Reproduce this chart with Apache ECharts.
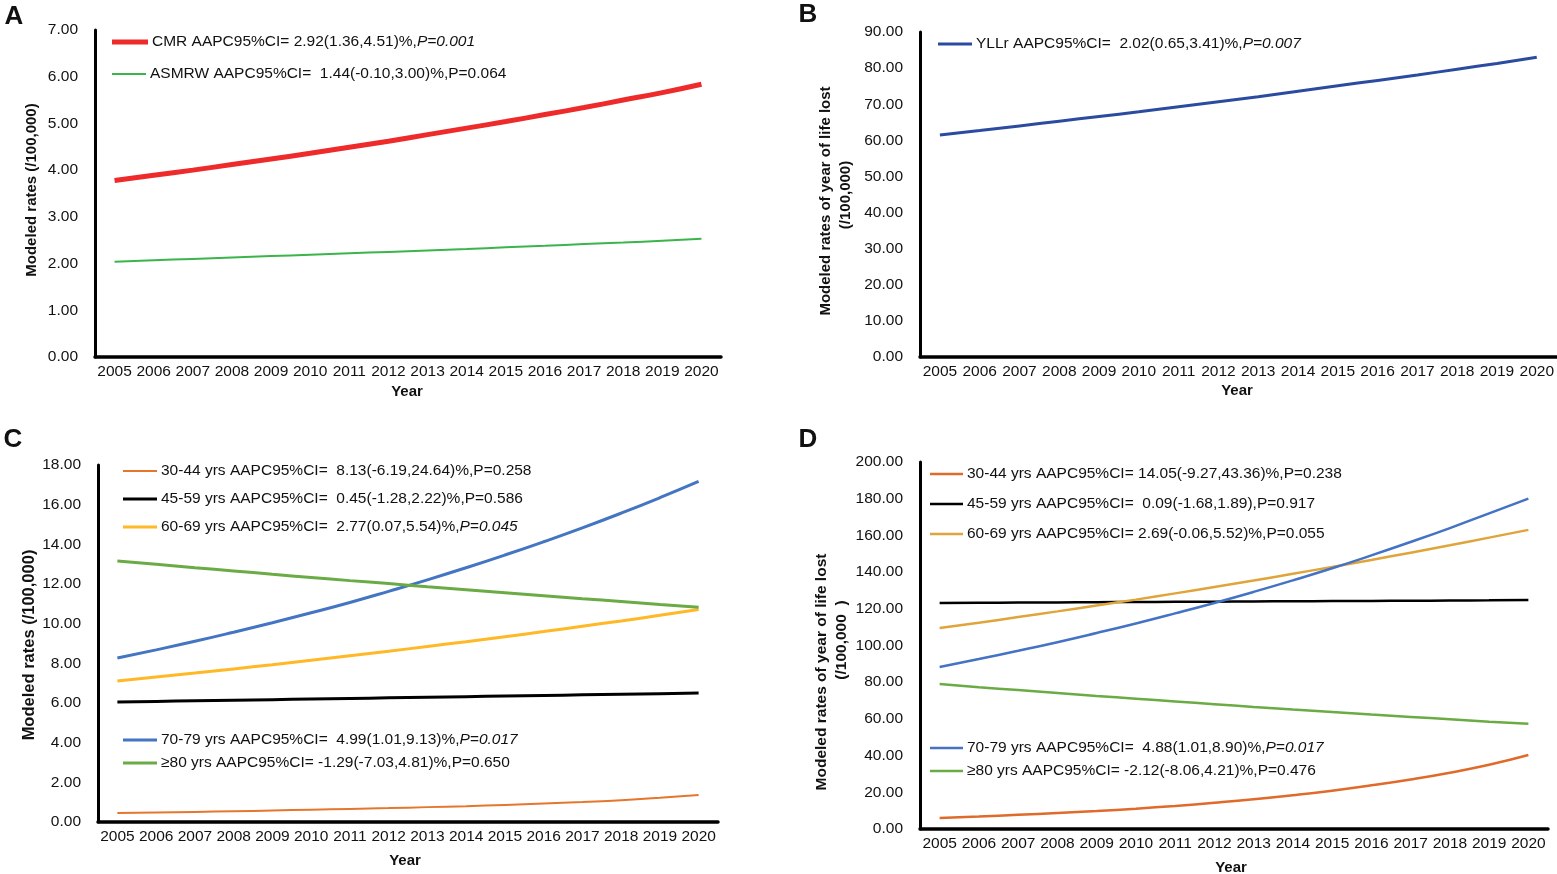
<!DOCTYPE html>
<html><head><meta charset="utf-8">
<script src="https://cdn.jsdelivr.net/npm/echarts@6/dist/echarts.min.js"></script>
<style>html,body{margin:0;padding:0;background:#fff}#c{width:1557px;height:874px}</style>
</head><body><div id="c"></div>
<script>
var years = ['2005','2006','2007','2008','2009','2010','2011','2012','2013','2014','2015','2016','2017','2018','2019','2020'];

// Panel A
var cmr   = [3.78,3.89,4.00,4.12,4.24,4.36,4.49,4.62,4.76,4.90,5.04,5.19,5.34,5.50,5.66,5.84];
var asmrw = [2.04,2.07,2.10,2.13,2.16,2.19,2.22,2.25,2.28,2.31,2.35,2.38,2.42,2.45,2.49,2.53];
// Panel B
var yllr  = [61.5,62.7,64.0,65.3,66.6,67.9,69.3,70.7,72.1,73.6,75.1,76.6,78.1,79.7,81.3,83.0];
// Panel C
var c3044 = [0.45,0.48,0.51,0.54,0.58,0.62,0.66,0.70,0.75,0.80,0.86,0.93,1.01,1.10,1.22,1.36];
var c4559 = [6.05,6.08,6.11,6.14,6.17,6.20,6.23,6.26,6.29,6.32,6.35,6.38,6.41,6.44,6.47,6.50];
var c6069 = [7.11,7.31,7.51,7.72,7.93,8.15,8.38,8.61,8.85,9.09,9.34,9.60,9.87,10.14,10.42,10.71];
var c7079 = [8.27,8.68,9.11,9.57,10.05,10.55,11.07,11.63,12.21,12.82,13.46,14.13,14.83,15.57,16.35,17.17];
var c80   = [13.16,12.99,12.82,12.66,12.49,12.33,12.17,12.02,11.86,11.71,11.56,11.41,11.26,11.12,10.97,10.83];
// Panel D
var d3044 = [6.0,6.8,7.7,8.7,9.8,11.1,12.6,14.3,16.2,18.4,20.9,23.8,27.0,30.7,35.0,40.3];
var d4559 = [123.2,123.3,123.4,123.5,123.6,123.7,123.8,123.9,124.0,124.1,124.2,124.3,124.4,124.5,124.6,124.8];
var d6069 = [109.5,112.4,115.5,118.6,121.8,125.0,128.4,131.9,135.4,139.1,142.8,146.6,150.6,154.6,158.8,163.0];
var d7079 = [88.3,92.6,97.1,101.8,106.8,112.0,117.5,123.2,129.2,135.5,142.1,149.1,156.4,164.0,172.0,180.0];
var d80   = [79.0,77.3,75.7,74.1,72.5,71.0,69.5,68.0,66.5,65.1,63.8,62.4,61.1,59.8,58.5,57.3];

// Legend labels: [plain part, italic part]
var labA = [['CMR AAPC95%CI= 2.92(1.36,4.51)%,','P=0.001'],['ASMRW AAPC95%CI=  1.44(-0.10,3.00)%,P=0.064','']];
var labB = [['YLLr AAPC95%CI=  2.02(0.65,3.41)%,','P=0.007']];
var labC = [['30-44 yrs AAPC95%CI=  8.13(-6.19,24.64)%,P=0.258',''],['45-59 yrs AAPC95%CI=  0.45(-1.28,2.22)%,P=0.586',''],['60-69 yrs AAPC95%CI=  2.77(0.07,5.54)%,','P=0.045'],['70-79 yrs AAPC95%CI=  4.99(1.01,9.13)%,','P=0.017'],['\u226580 yrs AAPC95%CI= -1.29(-7.03,4.81)%,P=0.650','']];
var labD = [['30-44 yrs AAPC95%CI= 14.05(-9.27,43.36)%,P=0.238',''],['45-59 yrs AAPC95%CI=  0.09(-1.68,1.89),P=0.917',''],['60-69 yrs AAPC95%CI= 2.69(-0.06,5.52)%,P=0.055',''],['70-79 yrs AAPC95%CI=  4.88(1.01,8.90)%,','P=0.017'],['\u226580 yrs AAPC95%CI= -2.12(-8.06,4.21)%,P=0.476','']];

var FONT = '"Liberation Sans", Arial, sans-serif';
var FS = 15.5;
var chart = echarts.init(document.getElementById('c'));

var grids = [
  {left:95, top:30, width:626, height:327},
  {left:920, top:32, width:637, height:325},
  {left:98, top:465, width:620, height:357},
  {left:920, top:462, width:628, height:367}
];
var yMax = [7, 90, 18, 200], yInt = [1, 10, 2, 20];

var xAxes = [], yAxes = [];
for (var g = 0; g < 4; g++) {
  xAxes.push({type:'category', gridIndex:g, data:years, boundaryGap:true,
    axisLine:{lineStyle:{color:'#000', width:3.5}}, axisTick:{show:false},
    axisLabel:{color:'#111', fontSize:FS, fontFamily:FONT, margin:7, interval:0}});
  yAxes.push({type:'value', gridIndex:g, min:0, max:yMax[g], interval:yInt[g],
    axisLine:{show:true, lineStyle:{color:'#000', width:3}}, axisTick:{show:false}, splitLine:{show:false},
    axisLabel:{color:'#111', fontSize:FS, fontFamily:FONT, margin:17, formatter:function(v){return v.toFixed(2);}}});
}

var series = [], legends = [], nameMap = {};
function add(g, lab, data, color, width, legLeft, legTop, legW) {
  var name = lab[0] + lab[1];
  nameMap[name] = lab;
  series.push({type:'line', name:name, xAxisIndex:g, yAxisIndex:g, data:data, smooth:true,
    showSymbol:false, symbol:'none', lineStyle:{color:color, width:width}, itemStyle:{color:color}, z:3});
  legends.push({left:legLeft, top:legTop, padding:0, itemWidth:legW, itemHeight:width,
    selectedMode:false, icon:'rect', data:[{name:name, icon:'rect', itemStyle:{color:color}}],
    formatter:function(n){var l=nameMap[n]; return '{n|'+l[0]+'}' + (l[1]?'{i|'+l[1]+'}':'');},
    textStyle:{fontFamily:FONT, fontSize:FS, color:'#111', padding:[0,0,0,-1],
      rich:{n:{fontFamily:FONT, fontSize:FS, color:'#111'}, i:{fontFamily:FONT, fontSize:FS, color:'#111', fontStyle:'italic'}}}});
}

// A
add(0, labA[0], cmr,   '#ee2a2a', 5,   112, 34, 36);
add(0, labA[1], asmrw, '#3bb44a', 2,   112, 66, 34);
// B
add(1, labB[0], yllr,  '#2a4b9f', 3,   938, 36, 34);
// C
add(2, labC[0], c3044, '#e5762c', 2,   123, 463, 34);
add(2, labC[1], c4559, '#000000', 3,   123, 491, 34);
add(2, labC[2], c6069, '#ffb826', 3,   123, 519, 34);
add(2, labC[3], c7079, '#4475c2', 3,   123, 732, 34);
add(2, labC[4], c80,   '#6aab45', 3,   123, 755, 34);
// D
add(3, labD[0], d3044, '#e06a2a', 2.5, 930, 466, 33);
add(3, labD[1], d4559, '#000000', 2.5, 930, 496, 33);
add(3, labD[2], d6069, '#e0a53a', 2.5, 930, 526, 33);
add(3, labD[3], d7079, '#4472c4', 2.5, 930, 740, 33);
add(3, labD[4], d80,   '#6aab45', 2.5, 930, 763, 33);

function txt(x, y, s, opt) {
  opt = opt || {};
  return {type:'text', x:x, y:y, rotation:opt.rot||0, z:10,
    style:{text:s, fontFamily:FONT, fontSize:opt.size||15, fontWeight:opt.bold?'bold':'normal', fill:'#111',
      textAlign:'center', textVerticalAlign:'middle'}};
}
var R = Math.PI/2;
var graphics = [
  txt(14, 17, 'A', {size:26, bold:true}),
  txt(808, 15, 'B', {size:26, bold:true}),
  txt(13, 440, 'C', {size:26, bold:true}),
  txt(808, 440, 'D', {size:26, bold:true}),
  txt(407, 392, 'Year', {bold:true}),
  txt(1237, 391, 'Year', {bold:true}),
  txt(405, 861, 'Year', {bold:true}),
  txt(1231, 868, 'Year', {bold:true}),
  txt(32, 190, 'Modeled rates (/100,000)', {bold:true, rot:R}),
  txt(826, 201, 'Modeled rates of year of life lost', {bold:true, rot:R}),
  txt(846, 195, '(/100,000)', {bold:true, rot:R}),
  txt(29, 645, 'Modeled rates (/100,000)', {bold:true, rot:R, size:16.5}),
  txt(822, 672, 'Modeled rates of year of life lost', {bold:true, rot:R, size:15.5}),
  txt(842, 640, '(/100,000  )', {bold:true, rot:R, size:15.5})
];

chart.setOption({
  animation:false,
  backgroundColor:'#fff',
  grid:grids, xAxis:xAxes, yAxis:yAxes, series:series, legend:legends, graphic:graphics
});
</script></body></html>
